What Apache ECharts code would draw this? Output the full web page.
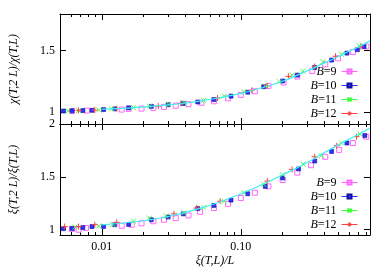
<!DOCTYPE html>
<html><head><meta charset="utf-8">
<script src="https://cdn.jsdelivr.net/npm/echarts@6/dist/echarts.min.js"></script>
<style>html,body{margin:0;padding:0;background:#fff}#c{width:392px;height:274px}</style>
</head><body><div id="c"></div>
<script>
// ---- data ----
const seriesNames = ['B=9', 'B=10', 'B=11', 'B=12'];
const xTicksMajor = [0.01, 0.1];
const xTickLabels = ['0.01', '0.10'];
const xTicksMinor = [0.005,0.006,0.007,0.008,0.009,0.02,0.03,0.04,0.05,0.06,0.07,0.08,0.09,0.2,0.3,0.4,0.5,0.6,0.7,0.8];
const yTicksTop = [1, 1.5];
const yTicksBot = [1, 1.5, 2];
const xName = 'ξ(T,L)/L';
const yNameTop = 'χ(T,2 L)/χ(T,L)';
const yNameBot = 'ξ(T,2 L)/ξ(T,L)';

const top9 = [[0.0061,1.006],[0.0078,1.010],[0.0139,1.018],[0.0156,1.024],[0.0193,1.026],[0.0235,1.032],[0.028,1.040],[0.034,1.050],[0.042,1.062],[0.052,1.074],[0.064,1.086],[0.081,1.110],[0.100,1.138],[0.126,1.168],[0.158,1.212],[0.203,1.240],[0.255,1.288],[0.327,1.334],[0.405,1.388],[0.50,1.437],[0.64,1.488],[0.80,1.535]];
const top10 = [[0.0053,1.006],[0.0061,1.008],[0.0073,1.010],[0.0085,1.012],[0.0103,1.018],[0.0124,1.024],[0.0156,1.032],[0.0227,1.044],[0.030,1.058],[0.0385,1.068],[0.049,1.080],[0.064,1.100],[0.085,1.128],[0.112,1.160],[0.146,1.205],[0.20,1.252],[0.255,1.300],[0.34,1.363],[0.45,1.423],[0.58,1.480],[0.69,1.508],[0.77,1.533]];
const top11 = [[0.0057,1.008],[0.0068,1.010],[0.0095,1.016],[0.0118,1.024],[0.0169,1.034],[0.022,1.046],[0.0303,1.060],[0.039,1.074],[0.054,1.093],[0.076,1.128],[0.105,1.162],[0.15,1.211],[0.19,1.245],[0.234,1.300],[0.28,1.332],[0.39,1.410],[0.53,1.470],[0.71,1.540]];
const top12 = [[0.0068,1.012],[0.0089,1.014],[0.0128,1.026],[0.0255,1.046],[0.037,1.068],[0.068,1.112],[0.12,1.176],[0.155,1.212],[0.22,1.290],[0.34,1.371],[0.48,1.454],[0.73,1.533]];
const fitTop = [[0.01,1.022],[0.015,1.030],[0.02,1.040],[0.03,1.056],[0.04,1.072],[0.05,1.087],[0.07,1.115],[0.1,1.150],[0.15,1.205],[0.2,1.250],[0.3,1.335],[0.4,1.400],[0.5,1.450],[0.6,1.495],[0.7,1.530],[0.85,1.580]];

const bot9 = [[0.0061,1.008],[0.0068,1.000],[0.0077,1.016],[0.0139,1.038],[0.0164,1.047],[0.0193,1.060],[0.0235,1.080],[0.028,1.094],[0.034,1.110],[0.042,1.135],[0.051,1.170],[0.064,1.205],[0.081,1.245],[0.100,1.300],[0.126,1.350],[0.158,1.410],[0.20,1.470],[0.255,1.540],[0.32,1.610],[0.405,1.690],[0.51,1.755],[0.64,1.820],[0.80,1.880]];
const bot10 = [[0.0053,1.010],[0.0061,1.012],[0.0073,1.020],[0.0085,1.030],[0.0103,1.030],[0.0124,1.047],[0.0156,1.050],[0.0227,1.094],[0.030,1.120],[0.0385,1.150],[0.049,1.200],[0.064,1.230],[0.085,1.280],[0.112,1.340],[0.15,1.410],[0.20,1.490],[0.26,1.575],[0.34,1.650],[0.45,1.740],[0.58,1.820],[0.78,1.890]];
const bot11 = [[0.0064,1.025],[0.0095,1.035],[0.012,1.050],[0.0169,1.080],[0.022,1.110],[0.029,1.130],[0.039,1.160],[0.054,1.210],[0.076,1.270],[0.105,1.350],[0.146,1.430],[0.20,1.520],[0.28,1.620],[0.38,1.700],[0.53,1.820],[0.72,1.905]];
const bot12 = [[0.0054,1.030],[0.0068,1.030],[0.0089,1.047],[0.0128,1.070],[0.033,1.150],[0.048,1.205],[0.071,1.270],[0.155,1.460],[0.234,1.570],[0.34,1.690],[0.49,1.795],[0.68,1.880]];
const fitBot = [[0.01,1.045],[0.02,1.085],[0.03,1.125],[0.05,1.200],[0.07,1.260],[0.1,1.340],[0.15,1.440],[0.2,1.520],[0.25,1.580],[0.3,1.635],[0.4,1.730],[0.5,1.800],[0.65,1.880],[0.85,1.960]];

// ---- style ----
const FONT = 'Liberation Serif';
const colors = ['#ff66ff', '#3030ff', '#40ff40', '#ff4040'];
const fitColor = '#40f0f0';
const XMIN = 0.005, XMAX = 0.85;
const symbols = ['rect', 'rect', 'path://M0,0L8,8M8,0L0,8', 'path://M4,0L4,8M0,4L8,4'];
const symSizes = [5, 4, 5, 6];

const chart = echarts.init(document.getElementById('c'), null, {renderer: 'canvas'});

function xFmt(v) {
  const i = xTicksMajor.findIndex(t => Math.abs(t - v) / t < 1e-6);
  return i >= 0 ? xTickLabels[i] : '';
}
function yFmt(v) { return String(Math.round(v * 100) / 100); }

const grids = [
  {left: 58, top: 14, width: 312, height: 110},
  {left: 58, top: 124, width: 312, height: 111}
];

const xAxes = [], yAxes = [];
[0, 1].forEach(g => {
  ['bottom', 'top'].forEach(pos => {
    xAxes.push({
      gridIndex: g, type: 'log', logBase: 10, min: XMIN, max: XMAX, position: pos,
      axisLine: {show: true, onZero: false, lineStyle: {color: '#000', width: 1}},
      axisTick: {show: true, inside: true, length: 6, customValues: xTicksMajor, lineStyle: {color: '#000'}},
      axisLabel: {show: g === 1 && pos === 'bottom', customValues: xTicksMajor, formatter: xFmt,
        fontFamily: FONT, fontSize: 12, color: '#000', margin: 6},
      splitLine: {show: false},
      name: (g === 1 && pos === 'bottom') ? xName : '',
      nameLocation: 'middle', nameGap: 20,
      nameTextStyle: {fontFamily: FONT, fontSize: 12, fontStyle: 'italic', color: '#000'}
    });
    xAxes.push({
      gridIndex: g, type: 'log', logBase: 10, min: XMIN, max: XMAX, position: pos,
      axisLine: {show: false, onZero: false},
      axisTick: {show: true, inside: true, length: 3, customValues: xTicksMinor, lineStyle: {color: '#000'}},
      axisLabel: {show: false},
      splitLine: {show: false}
    });
  });
  const yt = g === 0 ? yTicksTop : yTicksBot;
  ['left', 'right'].forEach(pos => {
    yAxes.push({
      gridIndex: g, type: 'value', min: g === 0 ? 0.9 : 0.95, max: g === 0 ? 1.8 : 2, position: pos,
      axisLine: {show: true, onZero: false, lineStyle: {color: '#000', width: 1}},
      axisTick: {show: true, inside: true, length: 6, customValues: yt, lineStyle: {color: '#000'}},
      axisLabel: {show: pos === 'left', customValues: yt, formatter: yFmt,
        fontFamily: FONT, fontSize: 12, color: '#000', margin: 5},
      splitLine: {show: false},
      name: pos === 'left' ? (g === 0 ? yNameTop : yNameBot) : '',
      nameLocation: 'middle', nameGap: 40, nameRotate: 90,
      nameTextStyle: {fontFamily: FONT, fontSize: 12, fontStyle: 'italic', color: '#000'}
    });
  });
});

const panelData = [[top9, top10, top11, top12], [bot9, bot10, bot11, bot12]];
const fits = [fitTop, fitBot];
const series = [];
[0, 1].forEach(g => {
  panelData[g].forEach((d, k) => {
    series.push({
      name: seriesNames[k], type: 'line', xAxisIndex: g * 4, yAxisIndex: g * 2, data: d,
      symbol: symbols[k], symbolSize: symSizes[k], showSymbol: true,
      lineStyle: {opacity: 0, color: colors[k]},
      itemStyle: k === 1 ? {color: colors[k], borderColor: '#1010a0', borderWidth: 0.6}
                         : {color: 'rgba(0,0,0,0)', borderColor: colors[k], borderWidth: 1},
      z: 2 + k
    });
  });
  series.push({
    name: 'fit' + g, type: 'line', xAxisIndex: g * 4, yAxisIndex: g * 2, data: fits[g],
    smooth: 0.3, showSymbol: false, symbol: 'none', silent: true,
    itemStyle: {color: fitColor},
    lineStyle: {color: fitColor, width: 1.2, opacity: 1}, z: 10
  });
});

function legendFor(top) {
  return {
    orient: 'vertical', right: 34, top: top, align: 'right', padding: 0,
    itemWidth: 16, itemHeight: 5, itemGap: 1, selectedMode: false,
    data: seriesNames.map((n, k) => ({name: n, lineStyle: {opacity: 1, width: 1, color: colors[k]}})),
    formatter: n => '{i|B}' + n.slice(1),
    textStyle: {fontFamily: FONT, fontSize: 12, color: '#000', lineHeight: 13,
      rich: {i: {fontFamily: FONT, fontSize: 12, fontStyle: 'italic', color: '#000', lineHeight: 13}}}
  };
}

chart.setOption({
  animation: false,
  grid: grids,
  xAxis: xAxes,
  yAxis: yAxes,
  legend: [legendFor(65), legendFor(176)],
  series: series
});
</script></body></html>
